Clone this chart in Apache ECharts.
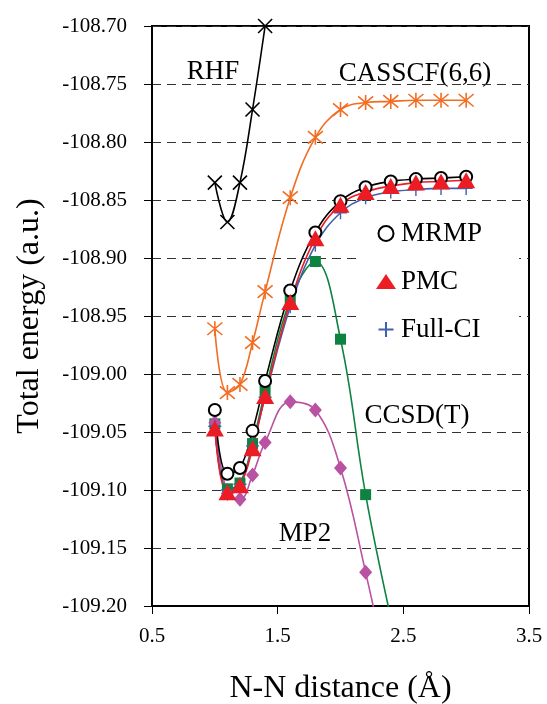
<!DOCTYPE html>
<html>
<head>
<meta charset="utf-8">
<script src="https://cdn.jsdelivr.net/npm/echarts@6/dist/echarts.min.js"></script>
<style>
  html, body { margin: 0; padding: 0; background: #fff; }
  #chart { width: 547px; height: 704px; }
</style>
</head>
<body>
<div id="chart"></div>
<script>
// N-N distance (Å)
const distRHF = [1.0, 1.1, 1.2, 1.3, 1.4]
const dist = [1.0, 1.1, 1.2, 1.3, 1.4, 1.6, 1.8, 2.0, 2.2, 2.4, 2.6, 2.8, 3.0]
const distShort = [1.0, 1.1, 1.2, 1.3, 1.4, 1.6, 1.8, 2.0, 2.2, 2.4]

// total energies (a.u.)
const rhf = [-108.835, -108.869, -108.835, -108.772, -108.700]
const casscf = [-108.961, -109.016, -109.009, -108.973, -108.929, -108.848, -108.796, -108.772, -108.766, -108.765, -108.764, -108.764, -108.764]
const mrmp = [-109.031, -109.086, -109.081, -109.049, -109.006, -108.928, -108.878, -108.851, -108.839, -108.834, -108.832, -108.831, -108.830]
const pmc = [-109.047, -109.102, -109.096, -109.064, -109.019, -108.938, -108.883, -108.854, -108.843, -108.838, -108.835, -108.834, -108.833]
const fullci = [-109.045, -109.100, -109.095, -109.062, -109.020, -108.942, -108.889, -108.861, -108.848, -108.843, -108.841, -108.840, -108.840]
const ccsdt = [-109.043, -109.099, -109.094, -109.060, -109.015, -108.936, -108.903, -108.970, -109.104, -109.210]
const mp2 = [-109.042, -109.103, -109.108, -109.087, -109.059, -109.024, -109.031, -109.081, -109.171, -109.270]

const xTicks = ['0.5', '1.5', '2.5', '3.5']

const FONT = 'Liberation Serif'
const crossPath = 'path://M0,0L10,10M10,0L0,10'
const starPath = 'path://M0,0L10,10M10,0L0,10M5,-1L5,11'
const plusPath = 'path://M5,0L5,10M0,5L10,5'

function pairs(xs, ys) {
  return xs.map((x, i) => [x, ys[i]])
}

const chart = echarts.init(document.getElementById('chart'))

function lineSeries(name, xs, ys, color, symbol, size, opts) {
  return Object.assign({
    name: name,
    type: 'line',
    data: pairs(xs, ys),
    smooth: 0.4,
    symbol: symbol,
    symbolSize: size,
    showAllSymbol: true,
    clip: true,
    lineStyle: { color: color, width: 1.6 },
    itemStyle: { color: color },
    emphasis: { disabled: true },
  }, opts || {})
}

chart.setOption({
  animation: false,
  grid: {
    left: 152,
    right: 18,
    top: 26,
    bottom: 98,
    outerBoundsMode: 'none',
    show: true,
    borderColor: '#000',
    borderWidth: 2,
  },
  xAxis: {
    type: 'value',
    min: 0.5,
    max: 3.5,
    interval: 1,
    name: 'N-N distance (Å)',
    nameLocation: 'middle',
    nameGap: 67,
    nameTextStyle: { fontFamily: FONT, fontSize: 32, color: '#000' },
    axisLine: { lineStyle: { color: '#000', width: 2 } },
    axisTick: { show: true, inside: false, length: 8, lineStyle: { color: '#000', width: 1 } },
    axisLabel: {
      margin: 20,
      fontFamily: FONT,
      fontSize: 21,
      color: '#000',
      formatter: function (v) {
        const s = v.toFixed(1)
        return xTicks.indexOf(s) >= 0 ? s : ''
      },
    },
    splitLine: { show: false },
  },
  yAxis: {
    type: 'value',
    min: -109.2,
    max: -108.7,
    interval: 0.05,
    name: 'Total energy (a.u.)',
    nameLocation: 'middle',
    nameRotate: 90,
    nameGap: 106,
    nameTextStyle: { fontFamily: FONT, fontSize: 32, color: '#000' },
    axisLine: { show: true, lineStyle: { color: '#000', width: 2 } },
    axisTick: { show: true, inside: false, length: 8, lineStyle: { color: '#000', width: 1 } },
    axisLabel: {
      margin: 25,
      fontFamily: FONT,
      fontSize: 21,
      color: '#000',
      formatter: function (v) { return v.toFixed(2) },
    },
    splitLine: {
      show: true,
      lineStyle: { color: '#333', width: 1, type: [9, 6] },
    },
  },
  legend: {
    orient: 'vertical',
    left: 360,
    top: 210,
    padding: [10, 37, 10, 16],
    itemGap: 21,
    itemWidth: 20,
    itemHeight: 15,
    backgroundColor: '#fff',
    selectedMode: false,
    textStyle: { fontFamily: FONT, fontSize: 27, color: '#000' },
    data: [
      { name: 'MRMP', icon: 'emptyCircle' },
      { name: 'PMC', icon: 'triangle' },
      { name: 'Full-CI', icon: plusPath },
    ],
  },
  graphic: [
    { type: 'text', x: 213, y: 72, style: { text: 'RHF', font: '27px ' + FONT, fill: '#000', align: 'center', verticalAlign: 'middle' } },
    { type: 'text', x: 415, y: 74, style: { text: 'CASSCF(6,6)', font: '27px ' + FONT, fill: '#000', align: 'center', verticalAlign: 'middle' } },
    { type: 'text', x: 417, y: 416, style: { text: 'CCSD(T)', font: '27px ' + FONT, fill: '#000', align: 'center', verticalAlign: 'middle' } },
    { type: 'text', x: 305, y: 534, style: { text: 'MP2', font: '27px ' + FONT, fill: '#000', align: 'center', verticalAlign: 'middle' } },
  ],
  series: [
    lineSeries('CCSD(T)', distShort, ccsdt, '#0E8241', 'rect', 11),
    lineSeries('MP2', distShort, mp2, '#BA52A3', 'diamond', [13, 15]),
    lineSeries('Full-CI', dist, fullci, '#3F62AE', plusPath, 13, {
      itemStyle: { color: 'none', borderColor: '#3F62AE', borderWidth: 1.4 },
    }),
    lineSeries('MRMP', dist, mrmp, '#000', 'emptyCircle', 12, {
      itemStyle: { color: '#000', borderColor: '#000', borderWidth: 1.6 },
    }),
    lineSeries('PMC', dist, pmc, '#EC1C24', 'triangle', [18, 16]),
    lineSeries('CASSCF(6,6)', dist, casscf, '#F26D22', starPath, 15, {
      itemStyle: { color: 'none', borderColor: '#F26D22', borderWidth: 1.6 },
    }),
    lineSeries('RHF', distRHF, rhf, '#000', crossPath, 14, {
      itemStyle: { color: 'none', borderColor: '#000', borderWidth: 1.6 },
    }),
  ],
})
</script>
</body>
</html>
